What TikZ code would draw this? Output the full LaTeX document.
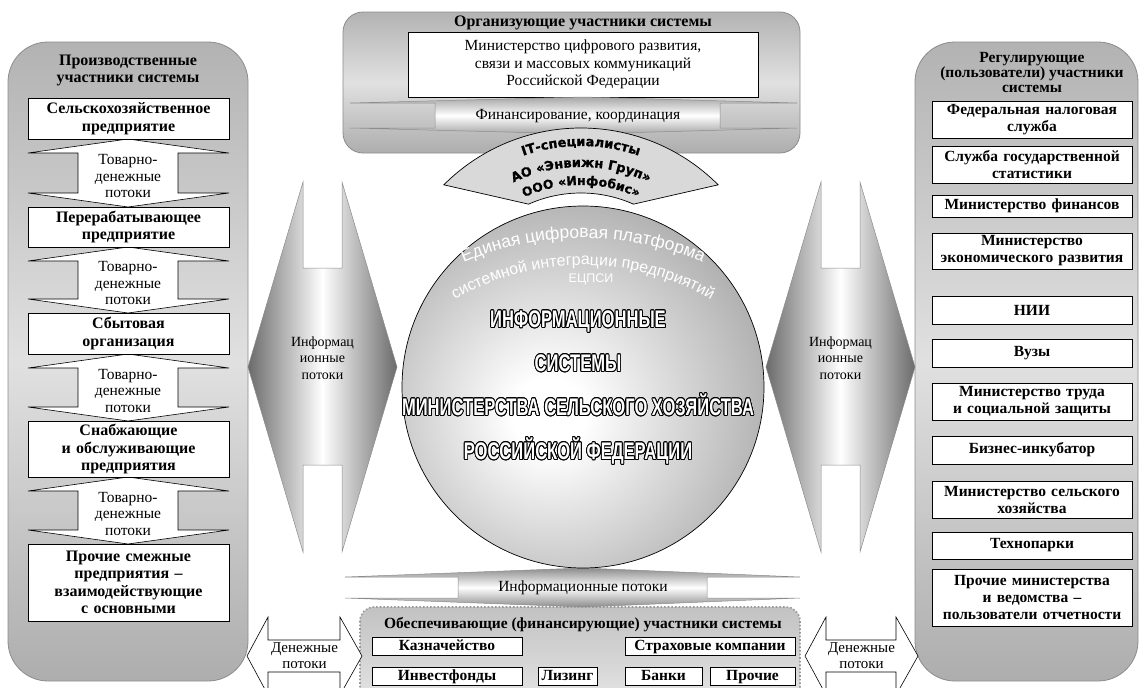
\documentclass[tikz,border=0pt]{standalone}
\usepackage{fontspec}
\setmainfont{Liberation Serif}
\newfontfamily\krugfont{Liberation Sans}
\newfontfamily\uzkfont[FakeStretch=0.69]{Liberation Sans Bold}
\newfontfamily\itfont[FakeBold=1]{DejaVu Sans Bold}
\usepackage[copies]{contour}
\contourlength{0.9pt}
\usetikzlibrary{decorations.text}
\pgfdeclareradialshading{krugshade}{\pgfpoint{-5bp}{-4bp}}{color(0bp)=(white); color(5bp)=(white); color(50bp)=(black!56); color(100bp)=(black!56)}
\tikzset{
  panel/.style={draw=black!45, line width=0.8pt, top color=black!30, bottom color=black!32, middle color=black!12},
  nizpanel/.style={draw=black!40, dotted, line width=1.6pt, top color=black!24, bottom color=black!10},
  blok/.style={draw, line width=0.7pt, fill=white, align=center, inner sep=0pt, font=\bfseries\fontsize{15.5}{17}\selectfont},
  kolonka/.style={blok, text width=194pt, inner xsep=3pt},
  zagolovok/.style={align=center, font=\bfseries\fontsize{16}{17}\selectfont},
  podpis/.style={align=center, font=\fontsize{15.5}{16.5}\selectfont},
  strelka/.style={draw, line width=0.6pt, fill=white},
  infopotok/.style={draw=black!45, line width=0.5pt},
  sektor/.style={draw, line width=0.7pt, fill=black!15},
}

\begin{document}
\begin{tikzpicture}[x=1pt, y=-1pt]
  \useasboundingbox (0,0) rectangle (1141,688);
  \draw[panel, rounded corners=40pt] (8,42) rectangle (248,681);
  \draw[panel, rounded corners=40pt] (915,42) rectangle (1138,681);
  \draw[panel, rounded corners=20pt] (343,12) rectangle (800,153);
  \draw[nizpanel, rounded corners=14pt] (360,607) rectangle (800,705);

  \node[zagolovok] (lzag) at (128,70) {Производственные\\участники системы};
  \node[zagolovok, font=\bfseries\fontsize{15.5}{15}\selectfont] (pzag) at (1032,72) {Регулирующие\\(пользователи) участники\\системы};
  \node[zagolovok] (org) at (583,23) {Организующие участники системы};
  \node[zagolovok, font=\bfseries\fontsize{15.5}{16}\selectfont] (obesp) at (583,625) {Обеспечивающие (финансирующие) участники системы};

  \foreach \yt/\yb [count=\i] in {139/207,247/313,354/421,477/544} {
    \draw[strelka] (128,\yt) -- (229,\yt+14) -- (178,\yt+14) -- (178,\yb-14) -- (229,\yb-14) -- (128,\yb)
      -- (28,\yb-14) -- (78,\yb-14) -- (78,\yt+14) -- (28,\yt+14) -- cycle;
    \node[podpis] (tovar\i) at (128,{(\yt+\yb)/2+3}) {Товарно-\\денежные\\потоки};
  }
  \foreach \y/\h/\txt [count=\i] in {118.5/41/{Сельскохозяйственное\\предприятие}, 227/40/{Перерабатывающее\\предприятие},
      333.5/41/{Сбытовая\\организация}, 449/56/{Снабжающие\\и обслуживающие\\предприятия},
      582.5/77/{Прочие смежные\\предприятия –\\взаимодействующие\\с основными}}
    \node[kolonka, text width=195pt, minimum height=\h pt, font=\bfseries\fontsize{16}{17.5}\selectfont] (proizv\i) at (128.5,\y) {\txt};

  \foreach \y/\h/\txt [count=\i] in {119.5/37/{Федеральная налоговая\\служба}, 164.5/37/{Служба государственной\\статистики},
      206/22/{Министерство финансов}, 251/36/{Министерство\\экономического развития}, 310/28/{НИИ}, 353/28/{Вузы},
      401.5/37/{Министерство труда\\и социальной защиты}, 450/28/{Бизнес-инкубатор},
      499.5/37/{Министерство сельского\\хозяйства}, 545.5/27/{Технопарки},
      597.5/57/{Прочие министерства\\и ведомства –\\пользователи отчетности}}
    \node[kolonka, minimum height=\h pt] (reg\i) at (1032,\y) {\txt};

  \node[draw, line width=0.7pt, fill=white, minimum width=350pt, minimum height=65pt, align=center,
    font=\fontsize{15.5}{17.5}\selectfont] (mincifra) at (583,64.5) {Министерство цифрового развития,\\связи и массовых коммуникаций\\Российской Федерации};

  \path[infopotok, top color=black!35, bottom color=black!35, middle color=white]
    (350,103) -- (435,103) -- (435,128) -- (350,128) -- (583,134) -- (797,128) -- (720,128) -- (720,103) -- (797,103) -- (583,97) -- cycle;
  \node[podpis] (finans) at (578,116) {Финансирование, координация};

  \path[infopotok, top color=black!45, bottom color=black!45, middle color=white]
    (345,577) -- (458,577) -- (458,598) -- (345,598) -- (583,607) -- (800,598) -- (707,598) -- (707,577) -- (800,577) -- (583,568) -- cycle;
  \node[podpis] (infoniz) at (583,588) {Информационные потоки};

  \foreach \cx [count=\i] in {322.5,840.5} {
    \path[infopotok, left color=black!58, right color=black!58, middle color=white]
      (\cx-19.5,182) -- (\cx-19.5,268) -- (\cx+19.5,268) -- (\cx+19.5,182) -- (\cx+74.5,367) -- (\cx+19.5,552)
      -- (\cx+19.5,465) -- (\cx-19.5,465) -- (\cx-19.5,552) -- (\cx-74.5,367) -- cycle;
    \node[podpis, font=\fontsize{14}{16.5}\selectfont] (info\i) at (\cx,358) {Информац\\ионные\\потоки};
  }

  \foreach \xl/\xr [count=\i] in {247/362,805/918} {
    \draw[strelka] (\xl,656) -- (\xl+21,617) -- (\xl+21,640) -- (\xr-22,640) -- (\xr-22,617) -- (\xr,656)
      -- (\xr-22,695) -- (\xr-22,672) -- (\xl+21,672) -- (\xl+21,695) -- cycle;
    \node[podpis, font=\fontsize{15}{16}\selectfont] (denezh\i) at ({(\xl+\xr)/2},656) {Денежные\\потоки};
  }

  \foreach \x/\y/\w/\txt [count=\i] in {447/646/150/Казначейство, 710/646/170/{Страховые компании},
      447/676/150/Инвестфонды, 567.5/676/59/Лизинг, 663.5/676/77/Банки, 752.5/676/85/Прочие}
    \node[blok, minimum width=\w pt, minimum height=18pt, text height=11pt, text depth=3pt] (fin\i) at (\x,\y) {\txt};

  \draw[sektor] ([shift={(581,322)}]-135:194) arc[start angle=-135, end angle=-45, radius=194]
    -- ([shift={(581,322)}]-66:129) arc[start angle=-66, end angle=-114, radius=129] -- cycle;
  \path[decorate, decoration={text along path, text align=center, text={|\itfont\fontsize{13}{13}\selectfont|IT-специалисты}}]
    ([shift={(581,322)}]-140:176) arc[start angle=-140, end angle=-40, radius=176];
  \path[decorate, decoration={text along path, text align=center, text={|\itfont\fontsize{13}{13}\selectfont|АО «Энвижн Груп»}}]
    ([shift={(581,322)}]-150:155) arc[start angle=-150, end angle=-30, radius=155];
  \path[decorate, decoration={text along path, text align=center, text={|\itfont\fontsize{12.5}{13}\selectfont|ООО «Инфобис»}}]
    ([shift={(581,322)}]-155:137) arc[start angle=-155, end angle=-25, radius=137];

  \node[circle, draw, line width=0.7pt, minimum size=362pt, inner sep=0pt, shading=krugshade] (krug) at (583,387) {};
  \path[decorate, decoration={text along path, text align=center, text={|\krugfont\fontsize{17.5}{17.5}\selectfont\color{white}|Единая цифровая платформа}}]
    ([shift={(583,540)}]-130:302) arc[start angle=-130, end angle=-50, radius=302];
  \path[decorate, decoration={text along path, text align=center, text={|\krugfont\fontsize{16}{16}\selectfont\color{white}|системной интеграции предприятий}}]
    ([shift={(583,520)}]-140:255) arc[start angle=-140, end angle=-40, radius=255];
  \node[text=white, font=\krugfont\fontsize{12.5}{13}\selectfont] (ecpsi) at (591,279) {ЕЦПСИ};
  \node[text=white, align=center, font=\uzkfont\fontsize{24}{44}\selectfont] (infsys) at (578,388)
    {\contour{black}{ИНФОРМАЦИОННЫЕ}\\\contour{black}{СИСТЕМЫ}\\\contour{black}{МИНИСТЕРСТВА СЕЛЬСКОГО ХОЗЯЙСТВА}\\\contour{black}{РОССИЙСКОЙ ФЕДЕРАЦИИ}};
\end{tikzpicture}
\end{document}
